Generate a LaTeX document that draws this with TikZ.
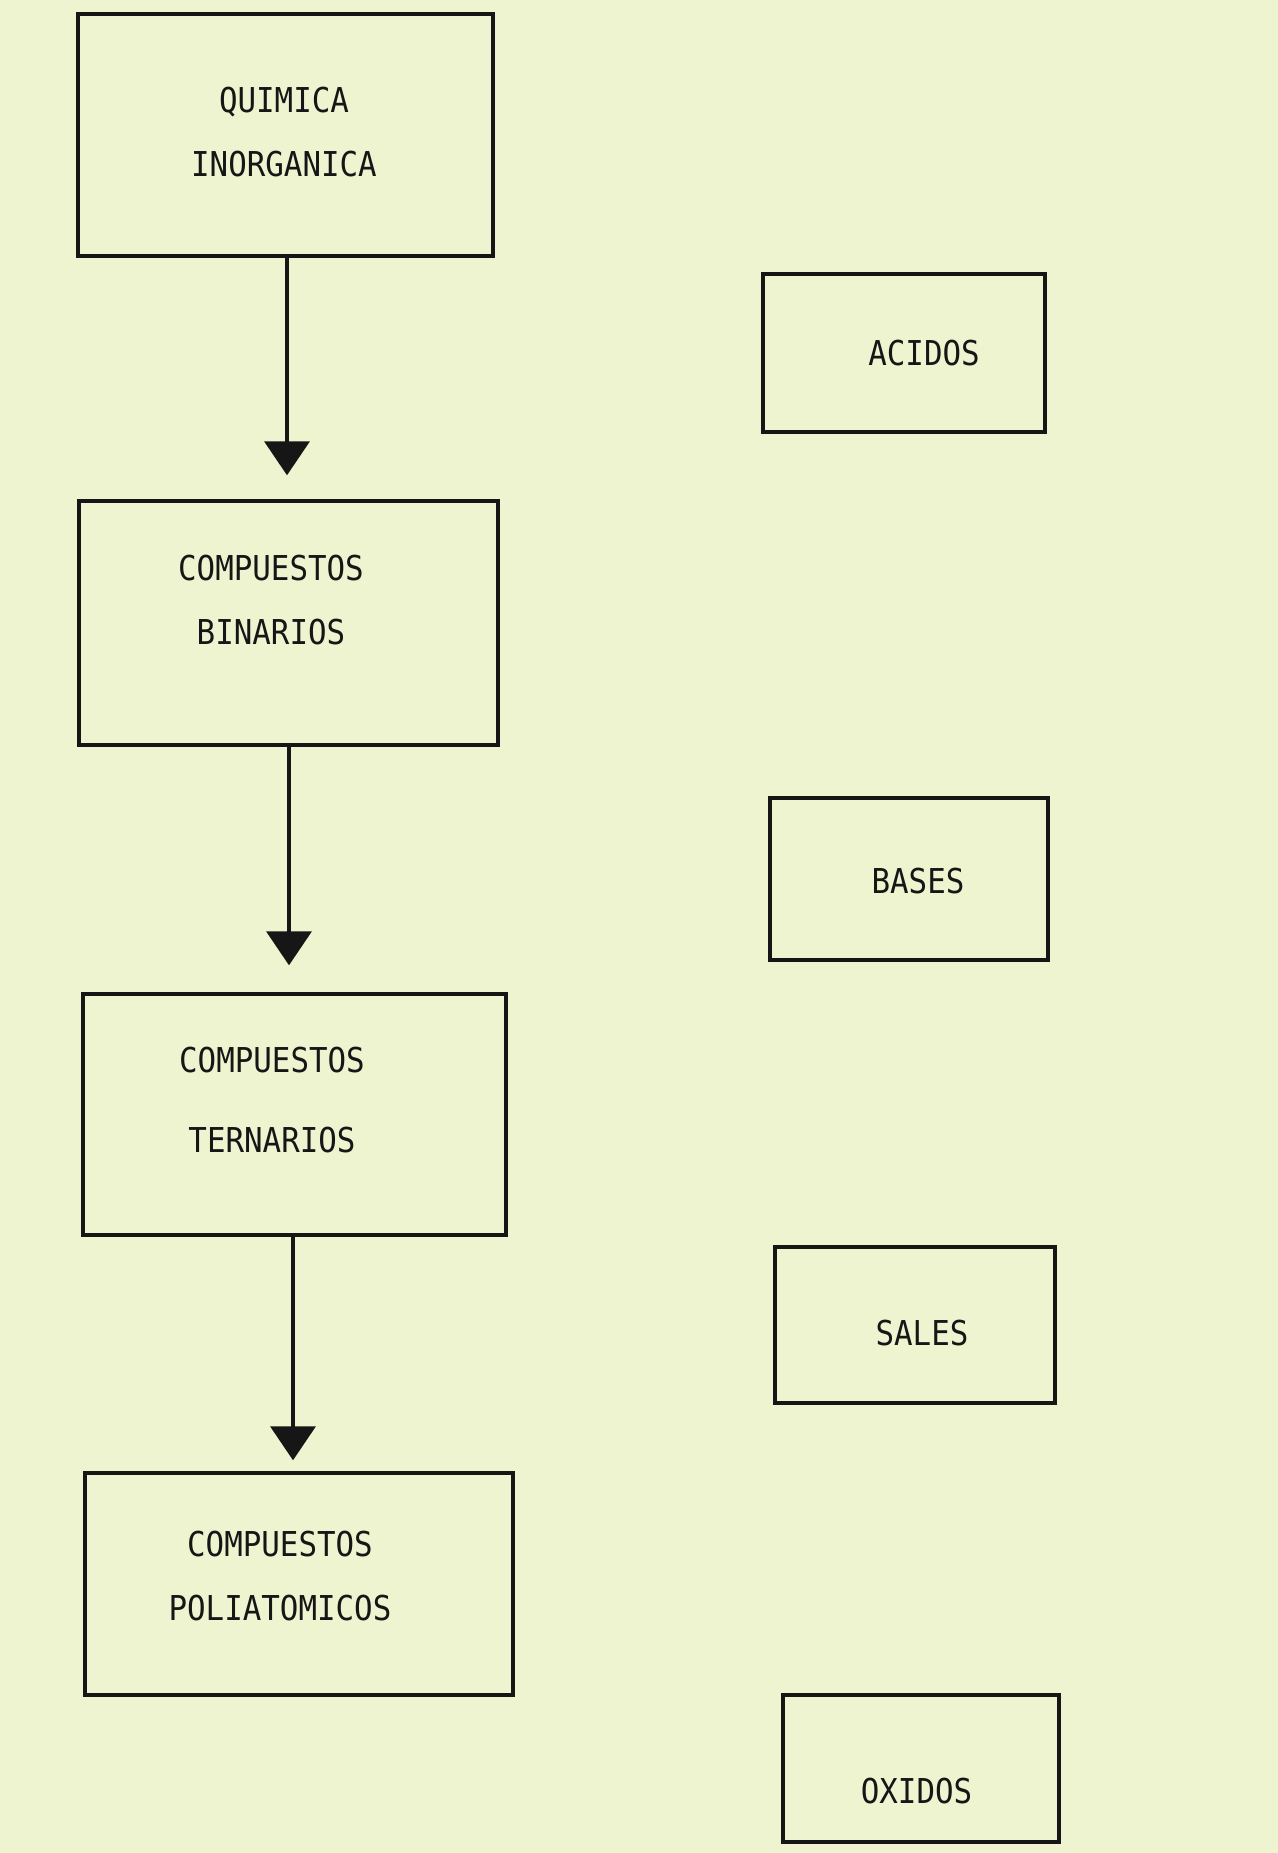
\documentclass[tikz,border=0pt]{standalone}
\usepackage{fontspec}
\usetikzlibrary{arrows.meta}
\newfontfamily\maquina[FakeStretch=0.9]{DejaVu Sans Mono}
\definecolor{papel}{RGB}{237,244,207}
\definecolor{tinta}{RGB}{22,22,22}

\begin{document}
\begin{tikzpicture}[x=0.02cm,y=-0.02cm,
    caja/.style={draw=tinta, line width=2pt, inner sep=0pt},
    rotulo/.style={text=tinta, align=center, inner sep=0pt, font=\maquina\fontsize{19.5}{36.4}\selectfont},
    flecha/.style={draw=tinta, line width=2.2pt, -{Triangle[width=0.9cm,length=0.68cm]}}]
    \fill[papel] (0,0) rectangle (1278,1853);
    % columna izquierda
    \node[caja, minimum width=8.3cm, minimum height=4.84cm] (qui) at (285.5,135) {};
    \node[rotulo] (qui-t) at (284,132) {QUIMICA\\INORGANICA};
    \node[caja, minimum width=8.38cm, minimum height=4.88cm] (bin) at (288.5,623) {};
    \node[rotulo] (bin-t) at (271,600) {COMPUESTOS\\BINARIOS};
    \node[caja, minimum width=8.46cm, minimum height=4.82cm] (ter) at (294.5,1114.5) {};
    \node[rotulo, font=\maquina\fontsize{19.5}{45.5}\selectfont] (ter-t) at (272,1100) {COMPUESTOS\\TERNARIOS};
    \node[caja, minimum width=8.56cm, minimum height=4.44cm] (pol) at (299,1584) {};
    \node[rotulo] (pol-t) at (280,1576) {COMPUESTOS\\POLIATOMICOS};
    % columna derecha
    \node[caja, minimum width=5.64cm, minimum height=3.16cm] (aci) at (904,353) {};
    \node[rotulo] (aci-t) at (924,353.5) {ACIDOS};
    \node[caja, minimum width=5.56cm, minimum height=3.24cm] (bas) at (909,879) {};
    \node[rotulo] (bas-t) at (918,881.5) {BASES};
    \node[caja, minimum width=5.6cm, minimum height=3.12cm] (sal) at (915,1325) {};
    \node[rotulo] (sal-t) at (922,1333.5) {SALES};
    \node[caja, minimum width=5.52cm, minimum height=2.94cm] (oxi) at (921,1768.5) {};
    \node[rotulo] (oxi-t) at (916.5,1791.5) {OXIDOS};
    % flechas
    \draw[flecha, shorten >=0.48cm] ([xshift=0.03cm]qui.south) -- ([xshift=0.03cm]qui.south |- bin.north);
    \draw[flecha, shorten >=0.54cm] ([xshift=0.01cm]bin.south) -- ([xshift=0.01cm]bin.south |- ter.north);
    \draw[flecha, shorten >=0.22cm] ([xshift=-0.03cm]ter.south) -- ([xshift=-0.03cm]ter.south |- pol.north);
\end{tikzpicture}
\end{document}
